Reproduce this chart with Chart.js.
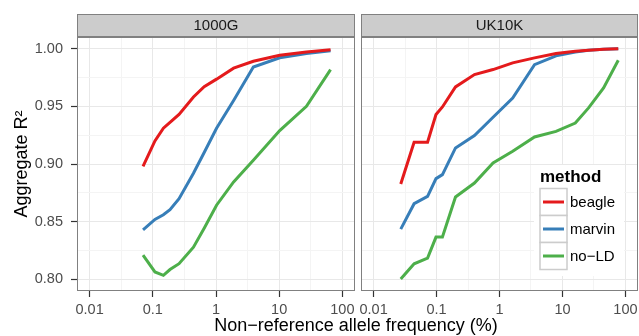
<!DOCTYPE html>
<html>
<head>
<meta charset="utf-8">
<script src="https://cdn.jsdelivr.net/npm/chart.js@4/dist/chart.umd.min.js"></script>
<style>
  html, body { margin: 0; padding: 0; background: #fff; }
  #wrap { position: relative; width: 639px; height: 336px; overflow: hidden;
          font-family: 'Liberation Sans', Arial, sans-serif; }
  #c1 { position: absolute; left: 0; top: 0; }
  #c2 { position: absolute; left: 358px; top: 0; }
  #xtitle { position: absolute; left: 56px; width: 600px; top: 315px;
            text-align: center; font-size: 18px; color: #000; white-space: nowrap; }
</style>
</head>
<body>
<div id="wrap">
  <canvas id="c1" width="358" height="336"></canvas>
  <canvas id="c2" width="281" height="336"></canvas>
  <div id="xtitle">Non−reference allele frequency (%)</div>
</div>
<script>
// ── DATA ──
const methods = ['beagle', 'marvin', 'no\u2212LD'];
const methodColors = ['#E41A1C', '#377EB8', '#4DAF4A'];

const freq1000G   = [0.07, 0.108, 0.147, 0.187, 0.26, 0.44, 0.65, 1.02, 1.9, 3.9, 10.2, 27, 65];
const beagle1000G = [0.898, 0.920, 0.931, 0.936, 0.943, 0.958, 0.967, 0.9735, 0.983, 0.989, 0.9942, 0.997, 0.999];
const marvin1000G = [0.843, 0.852, 0.856, 0.8605, 0.870, 0.892, 0.910, 0.931, 0.955, 0.984, 0.992, 0.9957, 0.998];
const noLD1000G   = [0.821, 0.8065, 0.8036, 0.8086, 0.8137, 0.828, 0.8444, 0.8643, 0.8845, 0.9033, 0.929, 0.950, 0.9818];

const freqUK10K   = [0.027, 0.044, 0.072, 0.098, 0.124, 0.2, 0.4, 0.79, 1.62, 3.6, 7.9, 16, 26, 45, 77];
const beagleUK10K = [0.8827, 0.9188, 0.9188, 0.9428, 0.9494, 0.9668, 0.9775, 0.9818, 0.9876, 0.9919, 0.9957, 0.9977, 0.9986, 0.9993, 0.9999];
const marvinUK10K = [0.8436, 0.8656, 0.872, 0.8873, 0.8908, 0.9139, 0.9246, 0.9405, 0.9572, 0.9861, 0.9937, 0.997, 0.9985, 0.9993, 0.9998];
const noLDUK10K   = [0.8003, 0.8136, 0.8185, 0.8367, 0.8367, 0.8714, 0.8835, 0.9009, 0.911, 0.9234, 0.9283, 0.9355, 0.9486, 0.9659, 0.9899];

const xMajorTicks = [0.01, 0.1, 1, 10, 100];
const xTickLabels = ['0.01', '0.1', '1', '10', '100'];
const yMajorTicks = [0.80, 0.85, 0.90, 0.95, 1.00];
const yTickLabels = ['0.80', '0.85', '0.90', '0.95', '1.00'];

// axis limits (0.01–100 and 0.8–1.0, each padded 5%)
const X_LO = Math.pow(10, -2.2), X_HI = Math.pow(10, 2.2);
const Y_LO = 0.79, Y_HI = 1.01;

// minor breaks halfway between majors (log space for x)
const xMinorTicks = xMajorTicks.slice(1).map((v, i) => Math.sqrt(v * xMajorTicks[i]));
const yMinorTicks = yMajorTicks.slice(1).map((v, i) => (v + yMajorTicks[i]) / 2);

// ── STYLE ──
const FONT      = "'Liberation Sans', Arial, sans-serif";
const GRID_MAJ  = '#E8E8E8';
const GRID_MIN  = '#F4F4F4';
const BORDER    = '#808080';
const TICK_TXT  = '#4D4D4D';

function majorIndex(v, list) {
    return list.findIndex(m => Math.abs(m - v) <= 1e-6 * Math.abs(m));
}

// panel border, grey strip on top, optional legend
const panelDeco = {
    id: 'panelDeco',
    afterDatasetsDraw(chart, args, opts) {
        const a = chart.chartArea, ctx = chart.ctx;
        ctx.save();
        ctx.strokeStyle = BORDER;
        ctx.lineWidth = 1;
        ctx.strokeRect(a.left + 0.5, a.top + 0.5, a.right - a.left - 1, a.bottom - a.top - 1);
        ctx.restore();
    },
    afterDraw(chart, args, opts) {
        const a = chart.chartArea, ctx = chart.ctx;
        ctx.save();
        // strip
        ctx.fillStyle = '#CCCCCC';
        ctx.fillRect(a.left, 14.5, a.right - a.left, 22);
        ctx.strokeStyle = BORDER;
        ctx.lineWidth = 1;
        ctx.strokeRect(a.left + 0.5, 14.5, a.right - a.left - 1, 22);
        ctx.fillStyle = '#1A1A1A';
        ctx.font = '15px ' + FONT;
        ctx.textAlign = 'center';
        ctx.textBaseline = 'middle';
        ctx.fillText(opts.strip, (a.left + a.right) / 2, 26);

        if (opts.legend) {
            const L = opts.legend;   // canvas coords
            ctx.fillStyle = '#FFFFFF';
            ctx.fillRect(L.x - 6, L.y - 12, 90, 111);
            ctx.fillStyle = '#000';
            ctx.font = 'bold 17px ' + FONT;
            ctx.textAlign = 'left';
            ctx.fillText('method', L.x, L.y + 0.5);
            const dsets = chart.data.datasets;
            dsets.forEach((d, i) => {
                const top = L.y + 11.5 + i * 27;
                ctx.fillStyle = '#FFFFFF';
                ctx.fillRect(L.x, top, 27, 27);
                ctx.strokeStyle = '#CCCCCC';
                ctx.lineWidth = 1.5;
                ctx.strokeRect(L.x, top, 27, 27);
                ctx.strokeStyle = d.borderColor;
                ctx.lineWidth = 3;
                ctx.beginPath();
                ctx.moveTo(L.x + 3, top + 13.5);
                ctx.lineTo(L.x + 24, top + 13.5);
                ctx.stroke();
                ctx.fillStyle = '#000';
                ctx.font = '15px ' + FONT;
                ctx.fillText(d.label, L.x + 30, top + 14);
            });
        }
        ctx.restore();
    }
};

function makePanel(canvasId, xs, series, opt) {
    const datasets = series.map((ys, i) => ({
        label: methods[i],
        data: xs.map((x, j) => ({ x: x, y: ys[j] })),
        borderColor: methodColors[i],
        backgroundColor: methodColors[i],
        borderWidth: 3,
        pointRadius: 0,
        tension: 0,
        fill: false
    }));

    return new Chart(document.getElementById(canvasId).getContext('2d'), {
        type: 'line',
        data: { datasets: datasets },
        plugins: [panelDeco],
        options: {
            responsive: false,
            animation: false,
            devicePixelRatio: 1,
            layout: { padding: { top: 37, right: opt.padRight, left: 0, bottom: 0 } },
            plugins: {
                legend: { display: false },
                tooltip: { enabled: false },
                panelDeco: { strip: opt.strip, legend: opt.legend || null }
            },
            scales: {
                x: {
                    type: 'logarithmic',
                    min: X_LO,
                    max: X_HI,
                    afterBuildTicks: s => {
                        s.ticks = xMajorTicks.concat(xMinorTicks)
                            .sort((p, q) => p - q)
                            .map(v => ({ value: v }));
                    },
                    afterFit: s => {
                        s.height = 45;
                        s.paddingLeft = 0;
                        s.paddingRight = 0;
                    },
                    ticks: {
                        autoSkip: false,
                        maxRotation: 0,
                        minRotation: 0,
                        padding: 4,
                        color: TICK_TXT,
                        font: { family: FONT, size: 14.5 },
                        callback: v => {
                            const k = majorIndex(v, xMajorTicks);
                            return k >= 0 ? xTickLabels[k] : '';
                        }
                    },
                    grid: {
                        color: c => majorIndex(c.tick.value, xMajorTicks) >= 0 ? GRID_MAJ : GRID_MIN,
                        tickColor: c => majorIndex(c.tick.value, xMajorTicks) >= 0 ? '#333333' : 'rgba(0,0,0,0)',
                        tickLength: 6,
                        tickWidth: 1.2,
                        lineWidth: 1
                    },
                    border: { display: false }
                },
                y: {
                    type: 'linear',
                    min: Y_LO,
                    max: Y_HI,
                    afterBuildTicks: s => {
                        s.ticks = yMajorTicks.concat(yMinorTicks)
                            .sort((p, q) => p - q)
                            .map(v => ({ value: v }));
                    },
                    afterFit: s => {
                        s.width = opt.yWidth;
                        s.paddingTop = 0;
                        s.paddingBottom = 0;
                    },
                    ticks: {
                        display: opt.showY,
                        autoSkip: false,
                        padding: 8,
                        color: TICK_TXT,
                        font: { family: FONT, size: 14.5 },
                        callback: v => {
                            const k = majorIndex(v, yMajorTicks);
                            return k >= 0 ? yTickLabels[k] : '';
                        }
                    },
                    grid: {
                        color: c => majorIndex(c.tick.value, yMajorTicks) >= 0 ? GRID_MAJ : GRID_MIN,
                        tickColor: c => majorIndex(c.tick.value, yMajorTicks) >= 0 ? '#333333' : 'rgba(0,0,0,0)',
                        drawTicks: opt.showY,
                        tickLength: 6,
                        tickWidth: 1.2,
                        lineWidth: 1
                    },
                    border: { display: false },
                    title: {
                        display: opt.showY,
                        text: 'Aggregate R\u00B2',
                        color: '#000',
                        font: { family: FONT, size: 18 },
                        padding: { top: 11, bottom: 0 }
                    }
                }
            }
        }
    });
}

makePanel('c1', freq1000G, [beagle1000G, marvin1000G, noLD1000G],
          { strip: '1000G', padRight: 3, yWidth: 77, showY: true });

makePanel('c2', freqUK10K, [beagleUK10K, marvinUK10K, noLDUK10K],
          { strip: 'UK10K', padRight: 1, yWidth: 3, showY: false,
            legend: { x: 540 - 358, y: 177 } });
</script>
</body>
</html>
